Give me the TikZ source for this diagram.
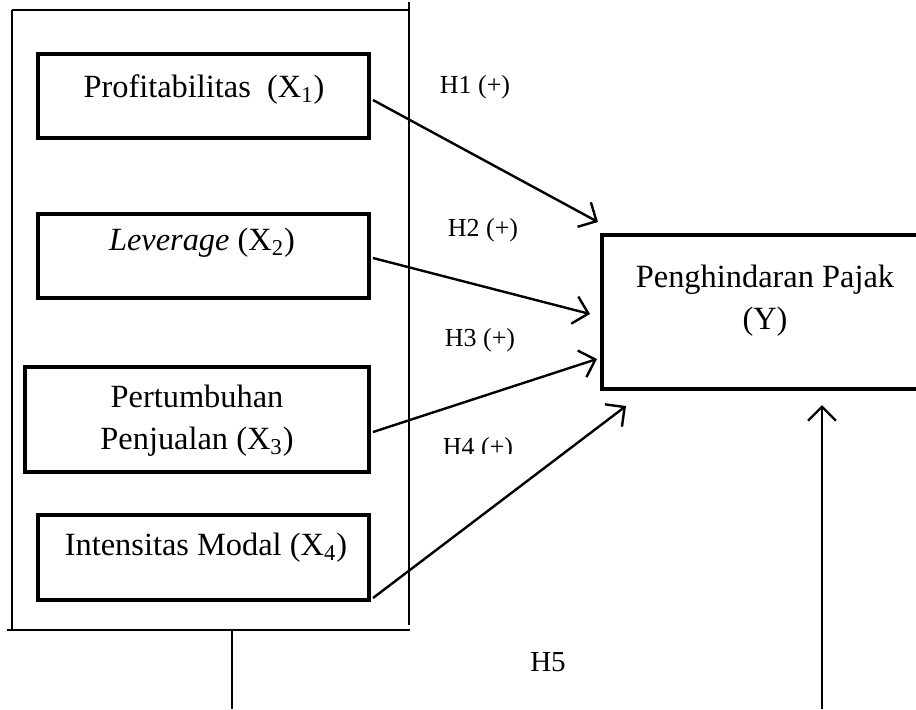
\documentclass[tikz,border=0pt]{standalone}
\usepackage{fontspec}
\setmainfont{Liberation Serif}
\usetikzlibrary{arrows.meta,calc}

\begin{document}
\begin{tikzpicture}[x=0.5pt,y=-0.5pt]
	\tikzstyle{varbox}  = [rectangle, draw=black, line width=2pt, inner sep=0pt]
	\tikzstyle{vartext} = [anchor=base, inner sep=0pt, align=center, font=\fontsize{16.2}{21}\selectfont]
	\tikzstyle{hyp}     = [anchor=base, inner sep=0pt, font=\fontsize{13}{15}\selectfont]
	\tikzstyle{link}    = [-{Straight Barb[length=7pt,width=14pt]}, line width=1.2pt]

	\clip (0,0) rectangle (916,709);

	% frame round the independent variables
	\draw[line width=1pt] (12,10) -- (409,10);
	\draw[line width=1pt] (12,10) -- (12,630);
	\draw[line width=1pt] (409,2) -- (409,625);
	\draw[line width=1pt] (7,630) -- (410,630);

	\foreach \name/\x/\y/\w/\h in {profit/203.5/96/165.5/42, lev/203.5/256/165.5/42, growth/197/419.5/172/52.5, capint/203.5/557.5/165.5/42.5, taxav/765/312/163/77}
		\node[varbox, minimum width=\w pt, minimum height=\h pt] (\name) at (\x, \y) {};

	\node[vartext] (profit-t) at (204,97) {Profitabilitas\ \ (X\textsubscript{1})};
	\node[vartext] (lev-t) at (202,250) {\textit{Leverage} (X\textsubscript{2})};
	\node[vartext] (growth-t) at (197,449) {Pertumbuhan\\Penjualan (X\textsubscript{3})};
	\node[vartext] (capint-t) at (206,555) {Intensitas Modal (X\textsubscript{4})};
	\node[vartext] (taxav-t) at (765,329) {Penghindaran Pajak\\(Y)};

	\draw[link] ($(profit.east)+(2,4)$) -- ($(taxav.north west)+(-2,-11)$);
	\draw[link] ($(lev.east)+(2,2)$) -- ($(taxav.west)+(-10,2)$);
	\draw[link] ($(growth.east)+(2,12.5)$) -- ($(taxav.south west)+(-3,-32)$);
	\draw[link] ($(capint.south east)+(2,-4)$) -- ($(taxav.south west)+(26,15)$);

	\node[hyp] (h1) at (475,93) {H1 (+)};
	\node[hyp] (h2) at (483,236) {H2 (+)};
	\node[hyp] (h3) at (480,346) {H3 (+)};
	\begin{scope}
		\clip (400,400) rectangle (560,453);
		\node[hyp] (h4) at (478,455) {H4 (+)};
	\end{scope}
	\node[hyp, font=\fontsize{14.5}{16}\selectfont] (h5) at (548,671) {H5};

	% moderating line
	\coordinate (framefoot) at (232,630);
	\coordinate (leftfoot) at (232,709);
	\coordinate (rightfoot) at (822,709);
	\draw[line width=1pt] (framefoot) -- (leftfoot);
	\draw[link] (rightfoot) -- ($(rightfoot |- taxav.south)+(0,14)$);
\end{tikzpicture}
\end{document}
